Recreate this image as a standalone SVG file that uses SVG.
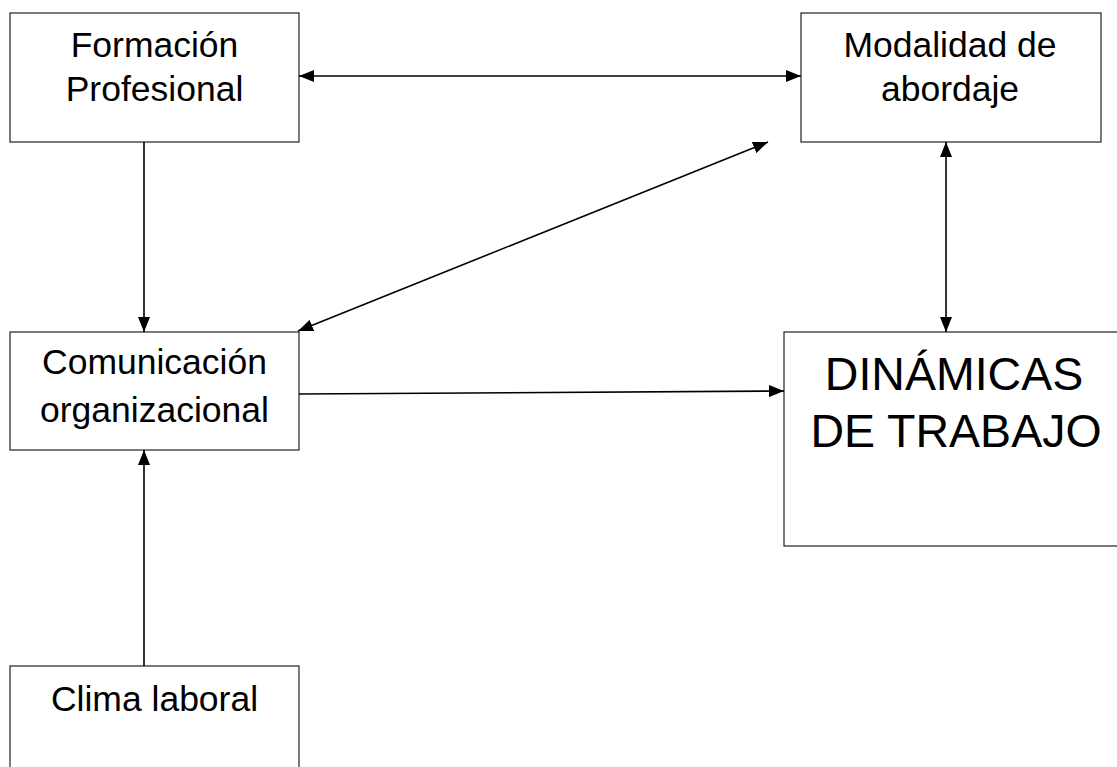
<svg xmlns="http://www.w3.org/2000/svg" width="1117" height="767" viewBox="0 0 1117 767">
<style>
.box{fill:#fff;stroke:#222;stroke-width:1.2}
.t{font-family:"Liberation Sans",Arial,sans-serif;font-size:35.5px;fill:#000;text-anchor:middle}
.big{font-size:46.5px}
.c{stroke:#000;stroke-width:1.6;fill:none}
</style>
<defs>
<marker id="ah" viewBox="0 0 15 12" refX="15" refY="6" markerWidth="15" markerHeight="12" markerUnits="userSpaceOnUse" orient="auto-start-reverse">
<path d="M0,0 L15,6 L0,12 Z" fill="#000"/>
</marker>
</defs>
<rect width="1117" height="767" fill="#fff"/>
<g id="formacion">
<rect class="box" x="10" y="13" width="289" height="129"/>
<text class="t" x="154.5" y="57">Formación</text>
<text class="t" x="154.5" y="101">Profesional</text>
</g>
<g id="modalidad">
<rect class="box" x="801" y="13" width="300" height="129"/>
<text class="t" x="950" y="57">Modalidad de</text>
<text class="t" x="950" y="101">abordaje</text>
</g>
<g id="comunicacion">
<rect class="box" x="10" y="332" width="289" height="118"/>
<text class="t" x="154.5" y="374">Comunicación</text>
<text class="t" x="154.5" y="422">organizacional</text>
</g>
<g id="dinamicas">
<rect class="box" x="784" y="332" width="340" height="214"/>
<text class="t big" x="954" y="390">DINÁMICAS</text>
<text class="t big" x="956" y="447">DE TRABAJO</text>
</g>
<g id="clima">
<rect class="box" x="10" y="666" width="289" height="120"/>
<text class="t" x="154.5" y="711">Clima laboral</text>
</g>
<g id="connectors">
<line class="c" x1="299" y1="76" x2="801" y2="76" marker-start="url(#ah)" marker-end="url(#ah)"/>
<line class="c" x1="144" y1="142" x2="144" y2="332" marker-end="url(#ah)"/>
<line class="c" x1="298" y1="331" x2="768" y2="142" marker-start="url(#ah)" marker-end="url(#ah)"/>
<line class="c" x1="946" y1="142" x2="946" y2="332" marker-start="url(#ah)" marker-end="url(#ah)"/>
<line class="c" x1="299" y1="394" x2="784" y2="391" marker-end="url(#ah)"/>
<line class="c" x1="144" y1="666" x2="144" y2="450" marker-end="url(#ah)"/>
</g>
</svg>
